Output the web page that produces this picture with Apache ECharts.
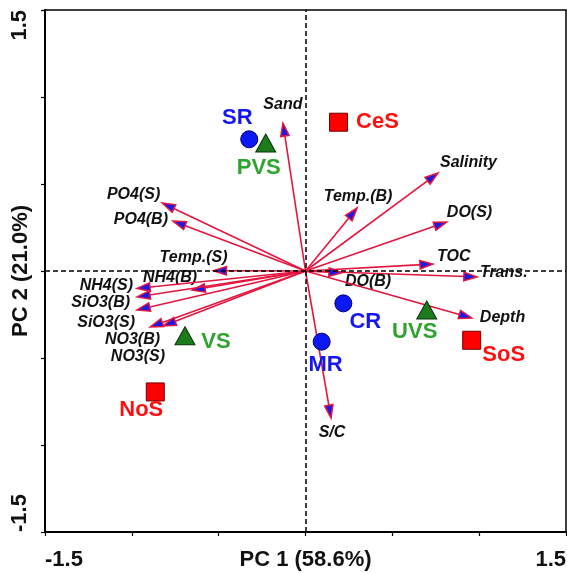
<!DOCTYPE html>
<html>
<head>
<meta charset="utf-8">
<script src="https://cdn.jsdelivr.net/npm/echarts@6/dist/echarts.min.js"></script>
<style>
  html, body { margin: 0; padding: 0; background: #fff; }
  #chart { width: 567px; height: 574px; }
</style>
</head>
<body>
<div id="chart"></div>
<script>
// sampling sites (PCA scores)
const siteNames = ['SR', 'CR', 'MR', 'PVS', 'UVS', 'VS', 'CeS', 'SoS', 'NoS'];
const siteX = [-0.324, 0.218, 0.093, -0.229, 0.698, -0.694, 0.19, 0.957, -0.865];
const siteY = [0.757, -0.186, -0.406, 0.736, -0.224, -0.372, 0.855, -0.398, -0.695];
const siteGroup = ['river', 'river', 'river', 'vent', 'vent', 'vent', 'sea', 'sea', 'sea'];

// environmental variables (PCA loadings)
const varNames = ['Sand', 'Salinity', 'Temp.(B)', 'DO(S)', 'TOC', 'Trans.', 'DO(B)', 'Depth', 'S/C',
  'PO4(S)', 'PO4(B)', 'Temp.(S)', 'NH4(B)', 'NH4(S)', 'SiO3(B)', 'SiO3(S)', 'NO3(B)', 'NO3(S)'];
const varX = [-0.13, 0.763, 0.297, 0.814, 0.734, 0.987, 0.21, 0.958, 0.147,
  -0.825, -0.763, -0.53, -0.653, -0.97, -0.97, -0.97, -0.895, -0.82];
const varY = [0.85, 0.563, 0.362, 0.282, 0.04, -0.034, -0.01, -0.27, -0.845,
  0.391, 0.287, 0.002, -0.11, -0.10, -0.149, -0.224, -0.322, -0.316];

const axisEnds = [-1.5, 1.5];
const xName = 'PC 1 (58.6%)';
const yName = 'PC 2 (21.0%)';

// label placement for arrow names: [align, dx, dy] in px from the tip
const varLabelPos = {
  'Sand': ['center', 0, -19], 'Salinity': ['left', 2, -10], 'Temp.(B)': ['center', 1, -11],
  'DO(S)': ['left', 0, -9], 'TOC': ['left', 4, -7], 'Trans.': ['left', 3, -4],
  'DO(B)': ['left', 3, 9], 'Depth': ['left', 8, 0], 'S/C': ['center', 1, 15],
  'PO4(S)': ['right', -2, -8], 'PO4(B)': ['right', -5, -1], 'Temp.(S)': ['right', 14, -13],
  'NH4(B)': ['right', 5, -13], 'NH4(S)': ['right', -4, -3], 'SiO3(B)': ['right', -7, 6],
  'SiO3(S)': ['right', -2, 13], 'NO3(B)': ['right', 10, 13], 'NO3(S)': ['right', 2, 31]
};
// label offsets for site names
const siteLabelPos = {
  'SR': [-12, -21], 'CR': [22, 19], 'MR': [4, 23], 'PVS': [-7, 25], 'UVS': [-12, 22],
  'VS': [31, 6], 'CeS': [39, 0], 'SoS': [32, 15], 'NoS': [-14, 18]
};

const FONT = 'Arial, "Liberation Sans", sans-serif';
const groupStyle = {
  river: { symbol: 'circle', size: 17, fill: '#0b18f2', border: '#00006e', text: '#1616f0' },
  vent: { symbol: 'triangle', size: [20, 18], fill: '#1c7c1c', border: '#0a330a', text: '#2ea42e' },
  sea: { symbol: 'rect', size: 18, fill: '#ff0000', border: '#6e0000', text: '#ff1010' }
};

const ARROW_COLOR = '#e3163f';
const HEAD_COLOR = '#1a1ae8';

function renderArrow(params, api) {
  const name = varNames[params.dataIndex];
  const o = api.coord([0, 0]);
  const p = api.coord([api.value(0), api.value(1)]);
  const ang = Math.atan2(p[1] - o[1], p[0] - o[0]);
  const c = Math.cos(ang), s = Math.sin(ang);
  const L = 13, W = 4.2;
  const bx = p[0] - L * c, by = p[1] - L * s;
  const pos = varLabelPos[name] || ['left', 4, 0];
  return {
    type: 'group',
    children: [
      {
        type: 'line',
        shape: { x1: o[0], y1: o[1], x2: bx + 2 * c, y2: by + 2 * s },
        style: { stroke: ARROW_COLOR, lineWidth: 1.6 }
      },
      {
        type: 'polygon',
        shape: { points: [[p[0], p[1]], [bx - W * s, by + W * c], [bx + W * s, by - W * c]] },
        style: { fill: HEAD_COLOR, stroke: ARROW_COLOR, lineWidth: 1.5 }
      },
      {
        type: 'text',
        style: {
          x: p[0] + pos[1], y: p[1] + pos[2], text: name,
          align: pos[0], verticalAlign: 'middle',
          font: 'italic bold 16px ' + FONT, fill: '#111'
        }
      }
    ]
  };
}

function siteSeries(group) {
  const st = groupStyle[group];
  const data = [];
  siteNames.forEach(function (n, i) {
    if (siteGroup[i] !== group) return;
    data.push({
      name: n,
      value: [siteX[i], siteY[i]],
      label: { offset: siteLabelPos[n] }
    });
  });
  return {
    type: 'scatter',
    z: 5,
    symbol: st.symbol,
    symbolSize: st.size,
    itemStyle: { color: st.fill, borderColor: st.border, borderWidth: 1, opacity: 1 },
    label: {
      show: true,
      position: 'inside',
      formatter: '{b}',
      color: st.text,
      fontFamily: FONT,
      fontWeight: 'bold',
      fontSize: 22
    },
    data: data
  };
}

const axisEndLabel = function (v) {
  return axisEnds.indexOf(v) >= 0 ? String(v) : '';
};

const myChart = echarts.init(document.getElementById('chart'));
myChart.setOption({
  animation: false,
  backgroundColor: '#fff',
  grid: {
    left: 45, right: 1, top: 10, bottom: 42,
    containLabel: false, outerBoundsMode: 'none',
    show: true, borderColor: '#000', borderWidth: 1.5
  },
  xAxis: {
    type: 'value', min: -1.5, max: 1.5, interval: 0.5,
    name: xName, nameLocation: 'middle', nameGap: 17, nameMoveOverlap: false,
    nameTextStyle: { fontFamily: FONT, fontWeight: 'bold', fontSize: 22, color: '#111', verticalAlign: 'top' },
    splitLine: { show: false },
    axisLine: { onZero: false, lineStyle: { color: '#000', width: 2 } },
    axisTick: { length: 4, lineStyle: { color: '#000', width: 1.2 } },
    axisLabel: {
      formatter: axisEndLabel, margin: 17, color: '#111',
      fontFamily: FONT, fontWeight: 'bold', fontSize: 22,
      alignMinLabel: 'left', alignMaxLabel: 'right'
    }
  },
  yAxis: {
    type: 'value', min: -1.5, max: 1.5, interval: 0.5,
    name: yName, nameLocation: 'middle', nameGap: 13, nameMoveOverlap: false,
    nameTextStyle: { fontFamily: FONT, fontWeight: 'bold', fontSize: 22, color: '#111' },
    splitLine: { show: false },
    axisLine: { onZero: false, lineStyle: { color: '#000', width: 2 } },
    axisTick: { length: 4, lineStyle: { color: '#000', width: 1.2 } },
    axisLabel: {
      formatter: axisEndLabel, margin: 14, rotate: 90, color: '#111',
      fontFamily: FONT, fontWeight: 'bold', fontSize: 22,
      alignMinLabel: 'left', alignMaxLabel: 'right'
    }
  },
  series: [
    {
      type: 'line',
      data: [],
      silent: true,
      markLine: {
        silent: true,
        symbol: 'none',
        label: { show: false },
        lineStyle: { color: '#000', type: [5, 3], width: 1.5 },
        data: [{ xAxis: 0 }, { yAxis: 0 }]
      }
    },
    {
      type: 'custom',
      silent: true,
      z: 3,
      renderItem: renderArrow,
      data: varNames.map(function (n, i) { return [varX[i], varY[i]]; })
    },
    siteSeries('river'),
    siteSeries('vent'),
    siteSeries('sea')
  ]
});
window.addEventListener('resize', function () { myChart.resize(); });
</script>
</body>
</html>
